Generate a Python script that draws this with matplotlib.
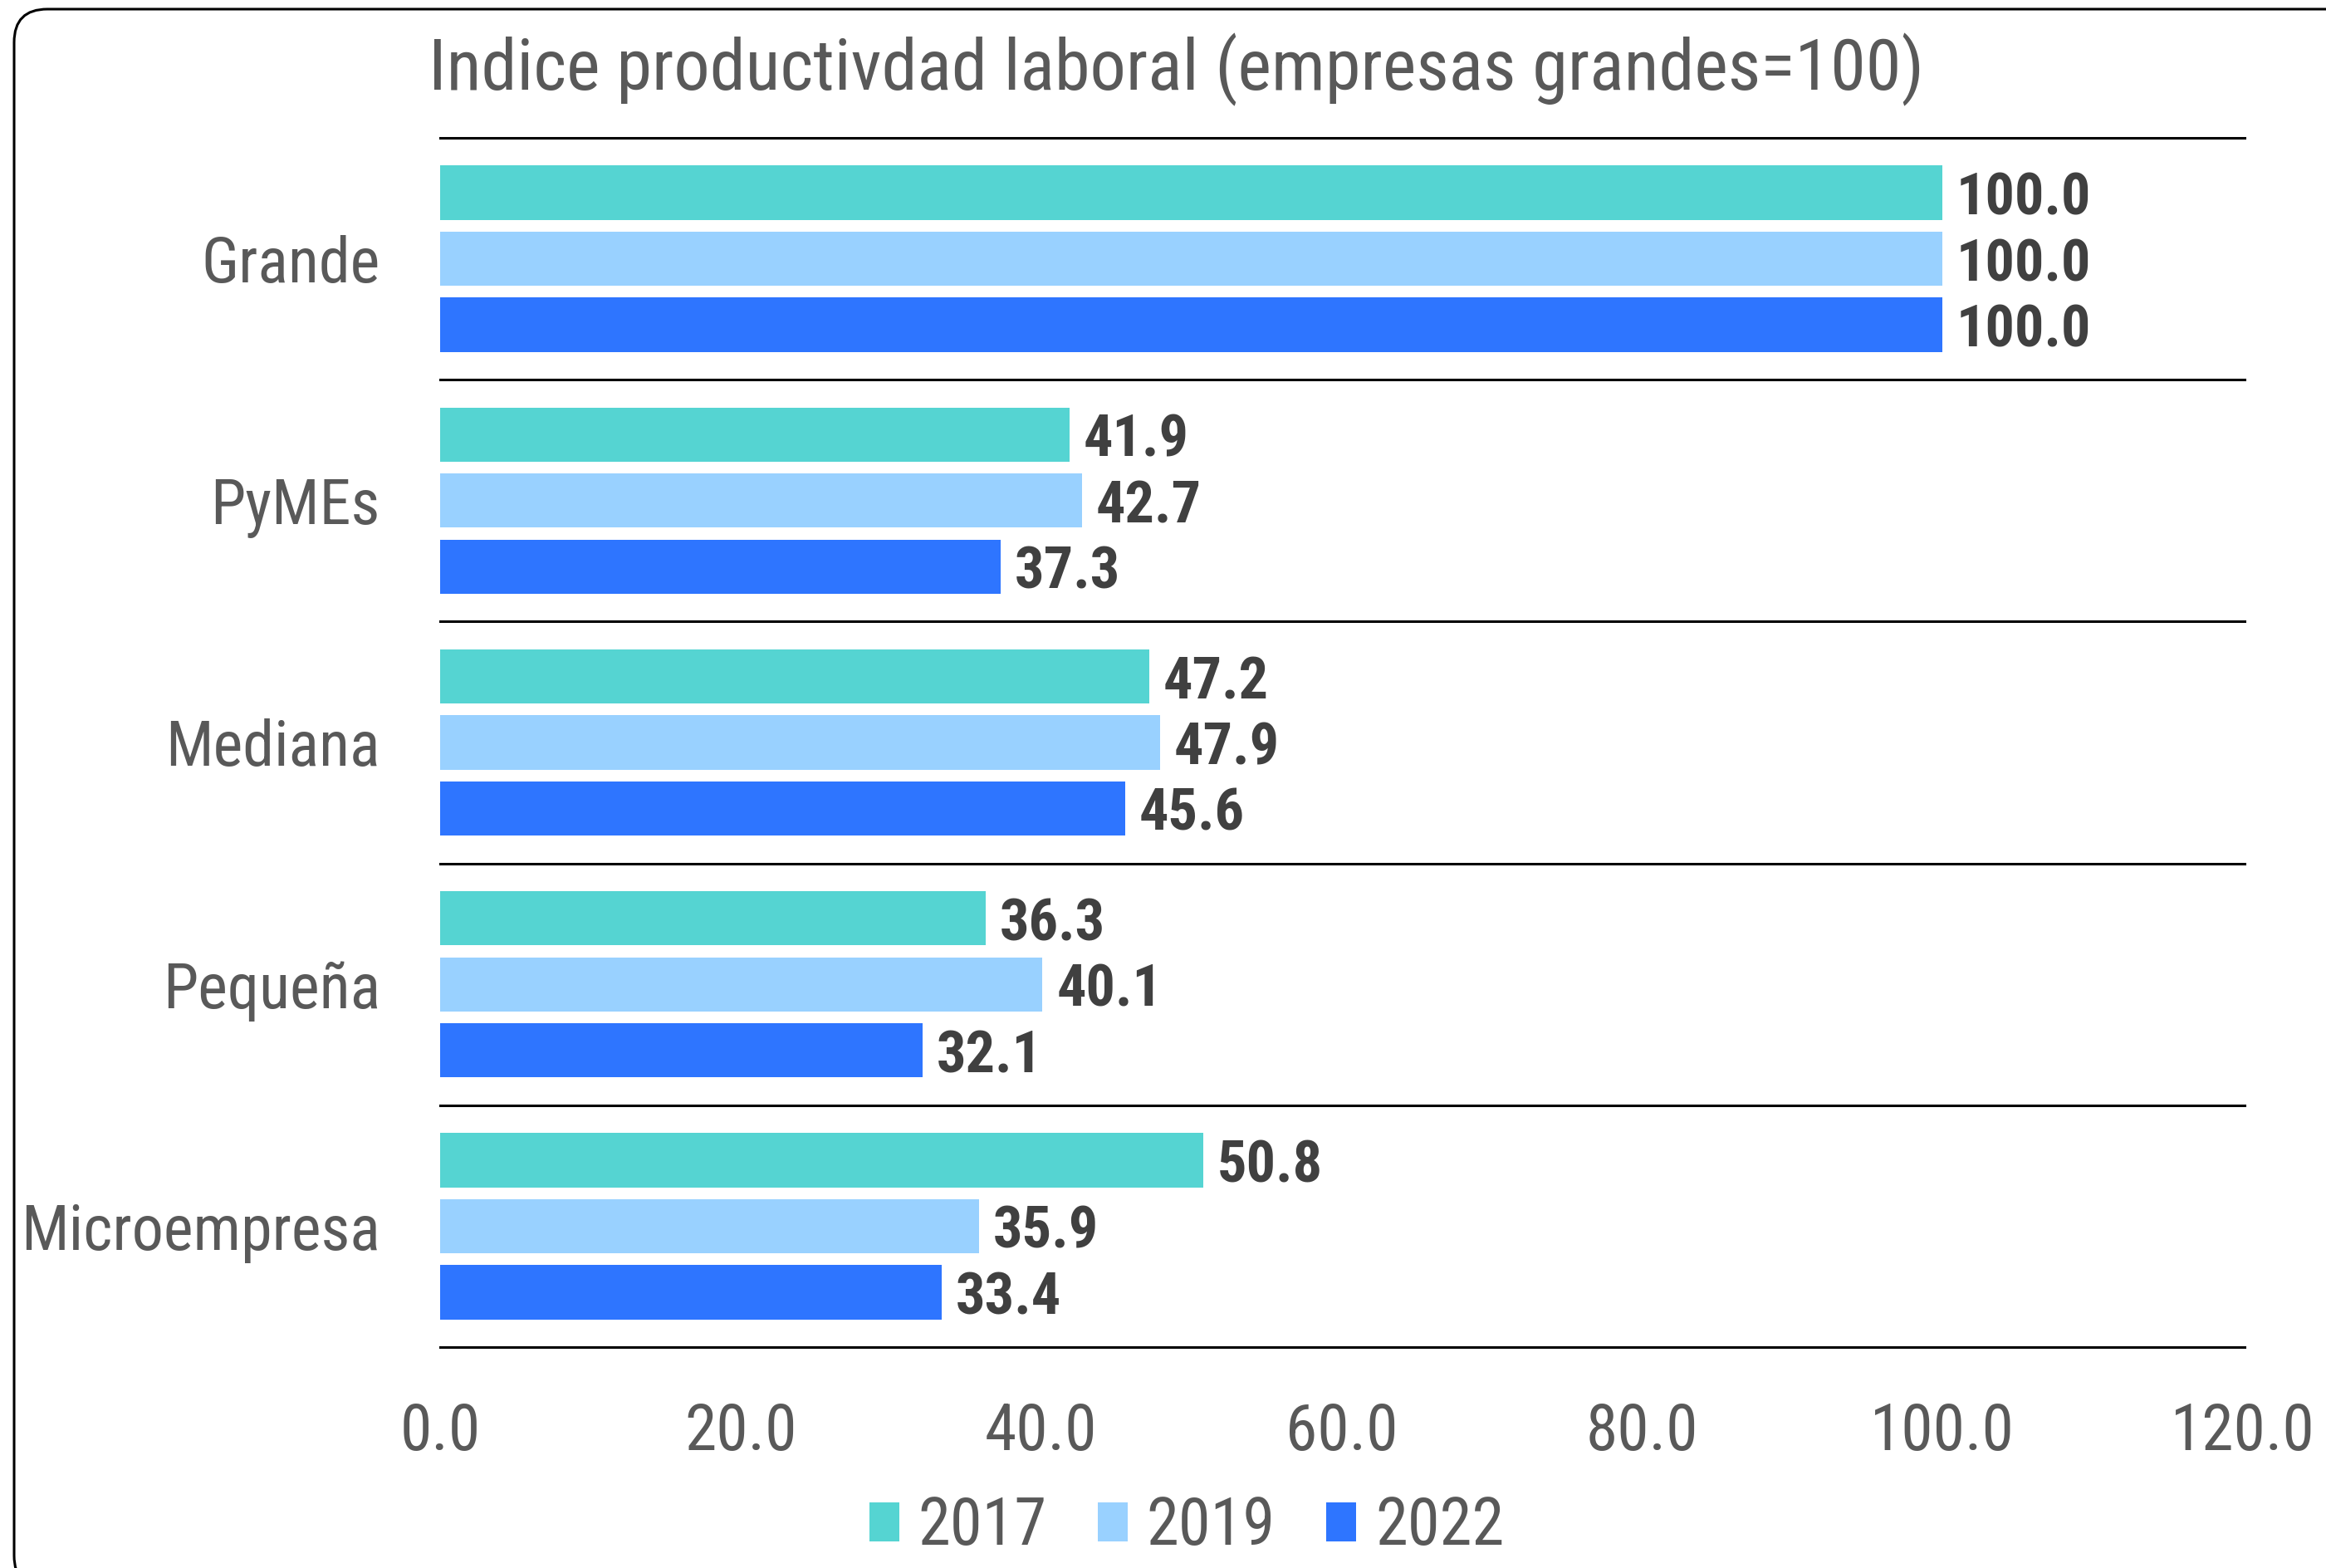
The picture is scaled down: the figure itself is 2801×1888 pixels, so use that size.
import matplotlib
matplotlib.use("Agg")
import matplotlib.pyplot as plt
import numpy as np
from matplotlib.patches import FancyBboxPatch
from matplotlib.transforms import IdentityTransform
from matplotlib import font_manager
from matplotlib.font_manager import FontProperties
from matplotlib.textpath import TextPath

# ---------------- data ----------------
categories = ["Grande", "PyMEs", "Mediana", "Pequeña", "Microempresa"]
years = ["2017", "2019", "2022"]
values_2017 = [100.0, 41.9, 47.2, 36.3, 50.8]
values_2019 = [100.0, 42.7, 47.9, 40.1, 35.9]
values_2022 = [100.0, 37.3, 45.6, 32.1, 33.4]
xticks = [0, 20, 40, 60, 80, 100, 120]
title = "Indice productivdad laboral (empresas grandes=100)"

colors = ["#55D4D2", "#99D1FF", "#2E75FF"]

# ---------------- font: prefer a narrow / condensed sans ----------------
def stretch_val(s):
    m = {"ultra-condensed": 100, "extra-condensed": 200, "condensed": 300,
         "semi-condensed": 400, "normal": 500}
    if isinstance(s, (int, float)):
        return s
    return m.get(str(s), 500)

def weight_val(w):
    if isinstance(w, (int, float)):
        return w
    m = {"normal": 400, "regular": 400, "book": 400, "bold": 700, "medium": 500}
    return m.get(str(w), 400)

def fam_rank(nm):
    order = ["Liberation Sans Narrow", "Roboto", "Noto Sans", "Open Sans", "Lato", "Inter", "DejaVu"]
    for i, o in enumerate(order):
        if nm.startswith(o):
            return i
    return 20

cands = []
for f in font_manager.fontManager.ttflist:
    nm = f.name
    if "CJK" in nm or "Mono" in nm or "Serif" in nm or f.style != "normal":
        continue
    is_narrow = ("Narrow" in nm or "Condensed" in nm or stretch_val(f.stretch) < 500
                 or "Condensed" in f.fname or "Narrow" in f.fname)
    if is_narrow:
        cands.append(f)

def eff_stretch(f):
    if "Narrow" in f.name or "Narrow" in f.fname:
        return 300
    if "SemiCondensed" in f.fname or "SemiCondensed" in f.name:
        return 400
    if "ExtraCondensed" in f.fname or "ExtraCondensed" in f.name:
        return 200
    s = stretch_val(f.stretch)
    if s == 500 and "Condensed" in (f.fname + f.name):
        return 300
    return s

reg_fp = None
bold_fp = None
if cands:
    cands.sort(key=lambda f: (fam_rank(f.name), abs(eff_stretch(f) - 300),
                              abs(weight_val(f.weight) - 400)))
    best = cands[0]
    reg_fp = FontProperties(fname=best.fname)
    same = [f for f in cands if f.name == best.name and eff_stretch(f) == eff_stretch(best)
            and weight_val(f.weight) >= 600]
    same.sort(key=lambda f: abs(weight_val(f.weight) - 700))
    if same:
        bold_fp = FontProperties(fname=same[0].fname)
if reg_fp is None:
    reg_fp = FontProperties(family="Liberation Sans")
if bold_fp is None:
    bold_fp = reg_fp.copy()
    bold_fp.set_weight("bold")

W, H, DPI = 2801, 1888, 200

def fit(base, text, target_px, nominal):
    tp = TextPath((0, 0), text, size=nominal * DPI / 72, prop=base)
    w = tp.get_extents().width
    k = target_px / w if w > 0 else 1.0
    k = min(max(k, 0.8), 1.25)
    p = base.copy()
    p.set_size(nominal * k)
    return p

cat_fp = fit(reg_fp, "Microempresa", 423, 26)
tick_fp = fit(reg_fp, "100.0", 163, 26)
title_fp = fit(reg_fp, title, 1788, 29.5)
val_fp = fit(bold_fp, "100.0", 154, 24)
leg_fp = fit(reg_fp, "2017", 148, 26)
F = leg_fp.get_size() * DPI / 72.0  # legend font size in pixels

fig = plt.figure(figsize=(W / DPI, H / DPI), dpi=DPI)
fig.patch.set_facecolor("white")

ax = fig.add_axes([530 / W, 1 - 1622 / H, (2701 - 530) / W, (1622 - 166) / H])

y = np.arange(len(categories))
pitch = 0.273
bh = 0.224
series = [values_2017, values_2019, values_2022]
handles = []
for i, (vals, col, yr) in enumerate(zip(series, colors, years)):
    pos = y + (i - 1) * pitch
    bars = ax.barh(pos, vals, height=bh, color=col, label=yr, zorder=3)
    handles.append(bars)
    for b, v in zip(bars, vals):
        ax.annotate(f"{v:.1f}", xy=(b.get_width(), b.get_y() + b.get_height() / 2),
                    xytext=(6, 0), textcoords="offset points",
                    ha="left", va="center_baseline", fontproperties=val_fp,
                    color="#404040")

ax.set_xlim(0, 120)
ax.set_ylim(len(categories) - 0.5, -0.5)
for g in np.arange(-0.5, len(categories), 1.0):
    ax.axhline(g, xmin=0, xmax=(2703 - 530) / (2701 - 530), color="black",
               lw=1.1, zorder=2, clip_on=False)

ax.set_xticks(xticks)
ax.set_xticklabels([f"{t:.1f}" for t in xticks], fontproperties=tick_fp)
ax.set_yticks(y)
ax.set_yticklabels(categories, fontproperties=cat_fp)
ax.tick_params(axis="x", length=0, pad=23.5, labelcolor="#595959")
ax.tick_params(axis="y", length=0, pad=26, labelcolor="#595959")
for s in ax.spines.values():
    s.set_visible(False)

fig.text(1416 / W, 1 - 84 / H, title, ha="center", va="center",
         fontproperties=title_fp, color="#595959")

leg = fig.legend(handles, years, loc="center", bbox_to_anchor=(1429 / W, 1 - 1838 / H), ncol=3,
                 frameon=False, prop=leg_fp, handlelength=36 / F, handleheight=43 / F,
                 handletextpad=23 / F, columnspacing=61 / F, labelcolor="#595959")

border = FancyBboxPatch((17, -25), 2830, 1877 + 25, boxstyle="round,pad=0,rounding_size=40",
                        transform=IdentityTransform(), fill=False, edgecolor="black",
                        linewidth=1.1)
fig.add_artist(border)

fig.savefig("out.png", dpi=DPI, facecolor="white")
